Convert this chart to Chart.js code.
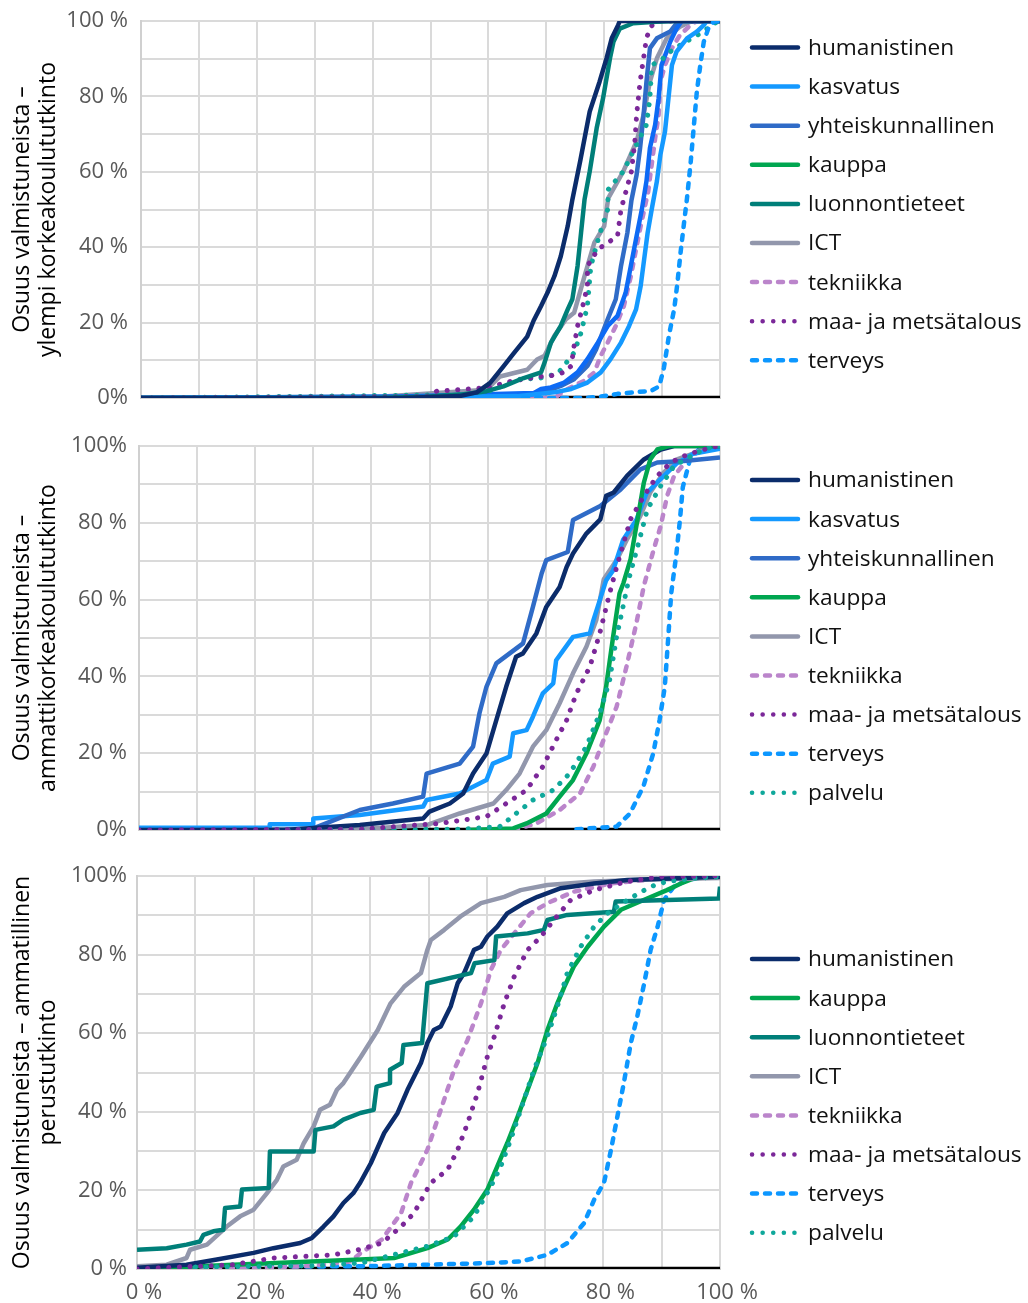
<!DOCTYPE html>
<html lang="fi">
  <head>
    <meta charset="utf-8" />
    <title>Osuus valmistuneista</title>
    <style>
      * { margin: 0; padding: 0; }
      body { background: #fff; width: 1028px; height: 1303px; position: relative; overflow: hidden; }
      .panel { position: absolute; left: 0; }
    </style>
  </head>
  <body>
    <div class="panel" style="top:0"><canvas id="c1" width="1028" height="420"></canvas></div>
    <div class="panel" style="top:420px"><canvas id="c2" width="1028" height="430"></canvas></div>
    <div class="panel" style="top:850px"><canvas id="c3" width="1028" height="453"></canvas></div>

    <script src="https://cdn.jsdelivr.net/npm/chart.js@4.4.1/dist/chart.umd.min.js"></script>
    <script>
      // ---- data: [x %, y %] pairs ----

      // panel 1: ylempi korkeakoulututkinto
      const p1Humanistinen = [[0,0],[45,0],[55,0.5],[58,1.5],[60.3,4],[62.6,8.4],[64.4,11.9],[66.7,16.3],[67.8,20.5],[69.1,24.4],[70.2,27.9],[71.4,32.3],[72.5,37.6],[73.7,45.6],[74.5,52.6],[75.9,63.2],[77.5,76],[79.2,83.9],[80.4,90.1],[81.3,95.4],[82.4,98.9],[82.7,100],[100,100]];
      const p1Kasvatus = [[0,0],[50,0.2],[65,0.5],[71.4,1.5],[74.3,2.4],[77.1,4.1],[79.4,6.8],[81.1,10.3],[82.9,14.7],[84.3,19.1],[85.5,23.5],[86.3,29.7],[86.9,36.8],[87.5,43.8],[88.2,50],[89.1,57.5],[89.7,64.5],[90.5,70.7],[91.1,79.5],[91.7,88.3],[92.5,91.9],[94.3,95.4],[96,97.2],[97.2,98.9],[97.7,100],[100,100]];
      const p1Yhteiskunnallinen = [[0,0],[60,0.3],[67,0.8],[70.2,1.9],[72.5,3.2],[74.8,5],[77.1,8.5],[78.6,12.9],[79.7,17.3],[80.6,20.9],[82,26.2],[82.9,35],[84,43.8],[84.7,52.4],[85.6,59.2],[86.2,66.3],[86.8,75.1],[87.3,83.9],[87.9,92.8],[89.1,95.4],[91.4,97.2],[92.5,99.4],[93,100],[100,100]];
      const p1Kauppa = [];
      const p1Luonnontieteet = [[0,0],[40,0],[49.3,0.3],[55.1,0.9],[59.7,1.8],[62.6,3.1],[66.1,5.3],[69.1,6.8],[69.7,9.4],[70.8,14.7],[72.5,19.1],[73.7,23.5],[74.5,26.2],[75.4,35],[76,43.8],[76.6,52.6],[77.5,60.1],[78.7,71.6],[79.8,79.5],[81,90.1],[81.6,94.5],[82.7,98],[85,99.4],[89,99.8],[92.5,100],[100,100]];
      const p1ICT = [[0,0],[41.8,0.4],[59.7,2.2],[62,5.7],[66.7,7.5],[68.4,10.2],[69.7,11.2],[71.4,16.5],[73.4,20.9],[74.8,22.6],[76.6,32.3],[78.3,41.2],[80,45.6],[80.7,53],[83.3,60.1],[85.6,68.1],[86.8,75.1],[87.9,83.9],[89.1,90.1],[90.8,95.4],[93.1,98.5],[94.9,99.8],[100,100]];
      const p1Tekniikka = [[0,0],[71.4,0],[72,0.6],[73.1,1.9],[74.8,3.3],[76.6,4.6],[78.3,6.8],[79.4,11.2],[80.6,14.7],[82,19.1],[83.4,24.4],[84.6,32.3],[85.5,39.4],[86.3,45.6],[87.6,54.8],[88.2,61.9],[88.8,68.9],[89.4,75.1],[89.7,83.9],[90.5,88.3],[91.7,92.8],[93.1,96.3],[94.9,98.9],[96,100],[100,100]];
      const p1Maa = [[0,0],[49.3,0.4],[51.1,1.8],[59.7,2.7],[63.8,4.4],[69,5.7],[70.8,5.9],[73.1,6.8],[74.3,8.5],[74.8,13.8],[75.4,19.1],[76.3,24.4],[77.1,29.7],[77.1,35],[78.9,39.4],[80.6,41.2],[82.3,42.9],[82.6,46.5],[82.9,50],[83.6,53.9],[84.7,60.1],[85.3,68.1],[85.6,75.1],[86.2,83.9],[87.3,95.4],[87.9,98],[88.8,100],[100,100]];
      const p1Terveys = [[66,0],[76.6,0],[79.4,0.4],[82.3,1.1],[85.2,1.5],[88.1,1.9],[89.5,3.1],[90.3,7.9],[91.2,16.7],[92.1,23.7],[92.6,29.9],[93.2,38.7],[93.8,46.6],[94.3,53],[94.9,61.9],[95.4,70.7],[96,81.3],[96.6,88.3],[97.2,94.5],[98,98.1],[98.9,99.8],[100,100]];
      const p1Palvelu = [[0,0],[57.4,0.9],[60.9,2.2],[64.9,4.9],[69,5.3],[72,6.5],[74.8,12],[76,17.3],[77.1,24.4],[77.7,35],[79.1,42.9],[80.6,50],[80.7,55.3],[83.3,60.1],[84.7,64.5],[87.3,72.5],[87.9,79.5],[88.2,88.3],[89.9,89.7],[91.4,91.9],[93.1,93.6],[96.6,96.7],[98.3,98.5],[99.5,99.8],[100,100]];
      const p1Muu = [[0,0],[44.7,0.4],[67.8,1.3],[69.1,2.4],[70.8,2.8],[73.1,4.1],[75.4,6.8],[77.1,10.3],[78.9,14.7],[80.6,19.1],[82.3,21.8],[83.7,27.9],[84.6,35],[85.7,43.8],[86.5,50],[87.3,57.5],[87.9,66.3],[88.8,72.5],[89.4,79.5],[89.9,88.3],[91.4,94.5],[92.5,98],[93.4,100],[100,100]];
      const p1Zero = [[0,0],[100,0]];

      // panel 2: ammattikorkeakoulututkinto
      const p2Humanistinen = [[0,0],[25,0],[30,0.5],[38,1.3],[48.9,3],[50,4.8],[53.5,6.9],[55.8,9.5],[57.5,14.7],[59.8,19.9],[61.5,28.6],[63.2,37.3],[64.9,45.1],[66.1,46],[68.4,51.2],[70.1,58.1],[72.4,63.3],[73.6,68.5],[74.7,72],[77,77.2],[79.4,80.9],[80.4,87],[81.7,87.9],[84,92.2],[86.9,96.5],[89.8,99.1],[92.1,100],[100,100]];
      const p2Kasvatus = [[0,0.6],[22.5,0.6],[22.5,1.5],[30,1.5],[30,3],[38,3.9],[48.9,6.1],[49.5,7.8],[55.2,9.5],[59.8,13],[60.9,17.3],[63.8,19.1],[64.4,25.2],[66.7,26],[67.8,29.5],[69.5,35.6],[71.3,38.2],[71.8,44.2],[74.7,50.3],[77.6,51.2],[78.2,54.6],[80.4,65],[81.6,67.6],[83.3,75.5],[85.6,80.7],[87.3,87.6],[89.6,91.1],[92.5,95.4],[95.4,98],[100,99.3]];
      const p2Yhteiskunnallinen = [[0,0],[29.5,0],[30,0.4],[38,5.2],[43.7,6.9],[48.9,8.7],[49.5,14.7],[55.2,17.3],[57.5,21.7],[58.6,30.4],[59.8,37.3],[61.5,43.4],[66.1,48.6],[67.8,58.1],[69.3,66.8],[70.1,70.3],[73.8,72.4],[74.7,80.7],[79.4,84.4],[82.9,88.7],[86.3,93.9],[89.2,95.7],[93.8,96.1],[100,97]];
      const p2Kauppa = [[56.9,0],[64.4,0.4],[66.7,1.7],[70.1,4.3],[72.4,8.7],[74.7,13],[77,19.9],[79.3,28.6],[80.4,37.3],[81.6,50.3],[82.7,61.6],[83.4,64.4],[84.6,70.5],[85.7,80],[86.9,90.5],[88,96.5],[89.2,99.1],[91.2,100],[100,100]];
      const p2ICT = [[0,0],[38,0.2],[49.5,1.3],[55.2,4.3],[61,6.9],[63.2,10.4],[65.5,14.7],[67.8,21.7],[70.1,26],[72.4,33],[74.7,40.8],[77,47.7],[78.7,54.6],[80,65.3],[82.3,70.5],[84,75.7],[86.3,81.8],[88,87.9],[90.3,93.1],[92.6,96.5],[96.7,98.7],[100,99.7]];
      const p2Tekniikka = [[64.4,0],[68.4,1.7],[72.4,5.2],[75.9,9.5],[78.2,16.5],[80.4,25.2],[82.2,32.1],[83.9,42.5],[85.6,53.8],[86.9,63.6],[88.6,73.1],[89.8,79.2],[90.9,87],[92.1,92.2],[94.4,96.5],[96.7,99.1],[100,100]];
      const p2Maa = [[0,0],[38,0.2],[51.8,1.7],[59.8,3.5],[63.2,6.9],[66.7,10.4],[69.5,16.5],[71.8,23.4],[73.6,28.6],[75.3,35.6],[77.6,42.5],[79.3,51.2],[81,61.6],[82.3,69],[84.6,80.9],[86.9,87],[89.2,92.2],[91.5,95.7],[94.4,97.8],[98.4,99.6],[100,100]];
      const p2Terveys = [[75.3,0.2],[82.2,0.9],[84.5,4.3],[86.8,11.3],[88.5,19.9],[89.6,28.6],[90.5,37.3],[91.1,50.3],[91.6,61.6],[92.5,72],[93.1,80.7],[93.6,89.3],[94.8,96.3],[96.5,99.3],[98.2,100],[100,100]];
      const p2Palvelu = [[22,0],[55.2,0.2],[62.1,0.9],[67.8,7.8],[71.3,10.4],[74.1,14.7],[77,21.7],[79.3,30.4],[81,39],[82.2,50.3],[83.3,58.1],[84.3,65.3],[86,74.8],[87.5,83.5],[89.8,89.6],[92.1,94.8],[96.1,98.3],[99,100],[100,100]];
      const p2Zero = [[0,0],[100,0]];

      // panel 3: ammatillinen perustutkinto
      const p3Humanistinen = [[0,0.3],[8.5,1.1],[13.7,2.4],[20,4.1],[23.4,5.3],[28,6.6],[30,7.9],[32,10.8],[33.7,13.4],[35.4,16.8],[37.1,19.3],[38.3,22],[40.1,26.9],[42.4,34.6],[44.7,39.7],[46.4,45.6],[48.7,52.4],[49.8,57.5],[50.9,60.8],[52.1,61.7],[53.8,66.8],[55,72.7],[56.1,75.3],[57.8,81.2],[59,82],[60.1,84.6],[61.8,87.1],[63.5,90.5],[66.4,93.1],[68.7,94.7],[72.7,96.9],[78.4,98.1],[84.1,99],[100,99.8]];
      const p3Kauppa = [[0,0],[16.5,1.1],[38.3,2.4],[44.1,2.8],[49.8,5.3],[53.3,7.5],[55.5,10.8],[57.8,15.1],[60.1,20.2],[61.8,26.1],[63.5,32],[65.3,38.8],[67,45.6],[68.7,52.4],[70.4,60.8],[72.1,67.6],[73.3,71.8],[74.9,76.9],[77.3,82],[80.1,87.1],[83,91.4],[86.9,93.9],[90.9,96.4],[93.3,98.1],[95.5,99.4],[100,99.8]];
      const p3Luonnontieteet = [[0,4.9],[5.1,5.3],[8.5,6.2],[10.8,7],[11.4,8.7],[13.1,9.6],[14.8,10],[15.1,15.5],[17.7,15.9],[18,20.2],[22.6,20.6],[22.8,29.9],[30.3,29.9],[30.6,35.4],[33.7,36.3],[35.4,38],[38.3,39.7],[40.6,40.5],[41.1,46.4],[43.4,47.3],[43.4,50.7],[45.4,52.4],[45.7,57],[48.9,57.5],[49.8,72.7],[57.3,75.3],[57.9,77.8],[61.3,78.6],[61.6,84.6],[67,85.4],[69.8,86.3],[70.4,88.8],[73.8,90.1],[81.8,90.9],[82.1,93.5],[99.8,94.3],[100,97.3]];
      const p3ICT = [[0,0.7],[5.1,1.1],[8.5,2.8],[9.1,4.9],[12,6.2],[15.4,10.8],[17.7,13.4],[20,15.1],[22.3,19.3],[24,22.7],[25.1,26.1],[27.4,27.8],[28.6,32],[30.3,36.3],[31.4,40.5],[33.1,41.8],[34.3,45.6],[35.4,47.3],[38.4,54],[41.3,60.8],[43.5,67.6],[45.8,71.8],[48.7,75.3],[49.8,81.2],[50.4,83.7],[52.7,86.3],[55.5,89.7],[59,93.1],[63,94.7],[65.8,96.4],[70.4,97.7],[78.4,98.6],[89.8,99.2],[100,99.5]];
      const p3Tekniikka = [[0,0],[20,0.2],[30,0.8],[36.6,1.9],[38.4,4.1],[42,7.5],[45.3,14.2],[47,21.9],[49.8,30.3],[52.1,40.5],[54.4,50.7],[56.7,58.3],[59,67.6],[60.7,76.1],[62.4,81.2],[64.7,85.4],[67.5,90.5],[70.4,93.1],[74.9,96],[81.3,98.1],[89.8,99.4],[100,99.8]];
      const p3Maa = [[0,0],[16.5,1.1],[23.4,2.8],[33.7,3.6],[38.3,5],[42,6.6],[45.3,10.8],[47.5,14.2],[50.4,21.9],[53.3,25.3],[55,30.3],[56.7,37.1],[58.4,44.7],[60.1,54.1],[61.3,59.2],[63,67.6],[64.7,74.4],[67,81.2],[69.3,84.6],[71.5,88.8],[74.4,93.9],[78.4,96.4],[84.1,98.6],[89.8,99.8],[100,100]];
      const p3Terveys = [[0,0.5],[38.4,0.7],[49.8,1.1],[60.1,1.5],[65.8,1.9],[70.4,3.6],[73.8,6.6],[76.7,11.7],[78.4,17.6],[80.1,21.9],[81.3,30.3],[82.4,38.8],[83.5,47.3],[84.7,57.5],[85.8,64.2],[87,72.7],[88.1,81.2],[89.3,87.1],[90.4,93.9],[92.1,97.3],[94.4,99],[97.8,99.8],[100,100]];
      const p3Palvelu = [[10,0.5],[30,0.8],[38.4,1.5],[49.8,5.8],[54.4,8.3],[57.8,13.4],[60.7,21],[62.4,26.1],[64.1,32.9],[66.4,43.1],[68.1,50.7],[70.4,59.2],[72.1,66.8],[73.8,75.3],[76.1,82],[78.4,87.1],[80.7,90.5],[84.1,93.9],[88.1,97.3],[90.9,98.6],[95.5,99.4],[100,99.8]];
      const p3Zero = [[0,0],[100,0]];

      // tick labels
      const p1YLabels = ["0%", "20 %", "40 %", "60 %", "80 %", "100 %"];
      const p2YLabels = ["0%", "20 %", "40 %", "60 %", "80 %", "100%"];
      const p3YLabels = ["0 %", "20 %", "40 %", "60 %", "80 %", "100%"];
      const xLabels = ["0 %", "20 %", "40 %", "60 %", "80 %", "100 %"];

      // ---- styles ----
      const FONT = '"Open Sans", "Noto Sans", sans-serif';
      const dotted = [0.1, 10.5];
      const dashed = [5, 8];
      const STYLE = {
        humanistinen: { color: "#0b2c6b", dash: [] },
        kasvatus: { color: "#1499ff", dash: [] },
        yhteiskunnallinen: { color: "#2f6bc7", dash: [] },
        kauppa: { color: "#00a650", dash: [] },
        luonnontieteet: { color: "#007f79", dash: [] },
        ICT: { color: "#9297ac", dash: [] },
        tekniikka: { color: "#bb85cb", dash: dashed },
        "maa- ja metsätalous": { color: "#7b2899", dash: dotted },
        terveys: { color: "#0c97ff", dash: dashed },
        palvelu: { color: "#0fa89b", dash: dotted },
        muu: { color: "#0d6af5", dash: [] },
        zero: { color: "#000000", dash: [] },
      };

      function series(label, pts, order, inLegend = true) {
        const st = STYLE[label];
        return {
          label: label,
          data: pts.map((p) => ({ x: p[0], y: p[1] })),
          borderColor: st.color,
          borderDash: st.dash,
          borderWidth: st.dash === dotted ? 5 : 4.5,
          borderCapStyle: st.dash.length ? "round" : "butt",
          borderJoinStyle: "round",
          pointRadius: 0,
          tension: 0,
          fill: false,
          order: order,
          inLegend: inLegend,
        };
      }

      // legend drawn beside the plot
      const sideLegend = {
        id: "sideLegend",
        afterDraw(chart, args, opts) {
          const ctx = chart.ctx;
          ctx.save();
          ctx.font = "22.7px " + FONT;
          ctx.textBaseline = "middle";
          ctx.textAlign = "left";
          let row = 0;
          chart.data.datasets.forEach((ds) => {
            if (!ds.inLegend) return;
            const y = opts.top + row * opts.step;
            ctx.beginPath();
            ctx.strokeStyle = ds.borderColor;
            ctx.lineWidth = ds.dash === dotted ? 4.5 : 4.5;
            ctx.lineCap = "round";
            ctx.setLineDash(ds.borderDash);
            ctx.moveTo(opts.x + 2, y);
            ctx.lineTo(opts.x + 48, y);
            ctx.stroke();
            ctx.setLineDash([]);
            ctx.fillStyle = "#111";
            ctx.fillText(ds.label, opts.x + 58, y + 1);
            row++;
          });
          ctx.restore();
        },
      };

      function makeChart(id, datasets, cfg) {
        const border = { color: "#d0d0d0", width: 2 };
        return new Chart(document.getElementById(id), {
          type: "line",
          data: { datasets: datasets },
          options: {
            responsive: false,
            animation: false,
            events: [],
            layout: { padding: { top: cfg.top, bottom: cfg.bottom, right: 1028 - 720, left: 0 } },
            plugins: {
              legend: { display: false },
              tooltip: { enabled: false },
              sideLegend: { x: 750, top: cfg.legendTop, step: 39.1 },
            },
            scales: {
              x: {
                type: "linear",
                min: 0,
                max: 100,
                grid: { color: "#dadada", lineWidth: 2, drawTicks: false },
                border: border,
                ticks: {
                  display: cfg.xTicks,
                  stepSize: 10,
                  autoSkip: false,
                  maxRotation: 0,
                  padding: 11,
                  labelOffset: 7,
                  color: "#595959",
                  font: { family: FONT, size: 22 },
                  callback: (v) => (v % 20 === 0 ? xLabels[v / 20] : ""),
                },
                afterFit: (s) => { s.height = cfg.xTicks ? 34 : 0; },
              },
              y: {
                type: "linear",
                min: 0,
                max: 100,
                grid: {
                  color: "#dadada",
                  lineWidth: 2,
                  drawTicks: true,
                  tickLength: cfg.tickPad,
                  tickColor: "rgba(0,0,0,0)",
                },
                border: border,
                ticks: {
                  stepSize: 10,
                  autoSkip: false,
                  padding: 0,
                  color: "#595959",
                  font: { family: FONT, size: 22 },
                  callback: (v) => (v % 20 === 0 ? cfg.yLabels[v / 20] : ""),
                },
                title: {
                  display: true,
                  text: cfg.title,
                  align: "center",
                  color: "#000",
                  font: { family: FONT, size: 23, lineHeight: 1.15 },
                  padding: { top: 9, bottom: 0 },
                },
                afterFit: (s) => { s.width = cfg.left; },
              },
            },
          },
          plugins: [sideLegend],
        });
      }

      makeChart(
        "c1",
        [
          series("humanistinen", p1Humanistinen, 1),
          series("kasvatus", p1Kasvatus, 4),
          series("yhteiskunnallinen", p1Yhteiskunnallinen, 6),
          series("kauppa", p1Kauppa, 9),
          series("luonnontieteet", p1Luonnontieteet, 2),
          series("ICT", p1ICT, 8),
          series("tekniikka", p1Tekniikka, 7),
          series("maa- ja metsätalous", p1Maa, 3),
          series("terveys", p1Terveys, 0),
          series("palvelu", p1Palvelu, 5, false),
          series("muu", p1Muu, 5, false),
          series("zero", p1Zero, 20, false),
        ],
        { top: 21, bottom: 22, left: 141, tickPad: 13, legendTop: 47.5, xTicks: false,
          yLabels: p1YLabels,
          title: ["Osuus valmistuneista –", "ylempi korkeakoulututkinto"] }
      );

      makeChart(
        "c2",
        [
          series("humanistinen", p2Humanistinen, 2),
          series("kasvatus", p2Kasvatus, 4),
          series("yhteiskunnallinen", p2Yhteiskunnallinen, 3),
          series("kauppa", p2Kauppa, 1),
          series("ICT", p2ICT, 5),
          series("tekniikka", p2Tekniikka, 6),
          series("maa- ja metsätalous", p2Maa, 0),
          series("terveys", p2Terveys, 7),
          series("palvelu", p2Palvelu, 0),
          series("zero", p2Zero, 20, false),
        ],
        { top: 26, bottom: 20, left: 139, tickPad: 12, legendTop: 60, xTicks: false,
          yLabels: p2YLabels,
          title: ["Osuus valmistuneista –", "ammattikorkeakoulututkinto"] }
      );

      makeChart(
        "c3",
        [
          series("humanistinen", p3Humanistinen, 2),
          series("kauppa", p3Kauppa, 4),
          series("luonnontieteet", p3Luonnontieteet, 1),
          series("ICT", p3ICT, 3),
          series("tekniikka", p3Tekniikka, 5),
          series("maa- ja metsätalous", p3Maa, 0),
          series("terveys", p3Terveys, 6),
          series("palvelu", p3Palvelu, 0),
          series("zero", p3Zero, 20, false),
        ],
        { top: 26, bottom: 0, left: 137, tickPad: 10, legendTop: 109, xTicks: true,
          yLabels: p3YLabels,
          title: ["Osuus valmistuneista – ammatillinen", "perustutkinto"] }
      );
    </script>
  </body>
</html>
